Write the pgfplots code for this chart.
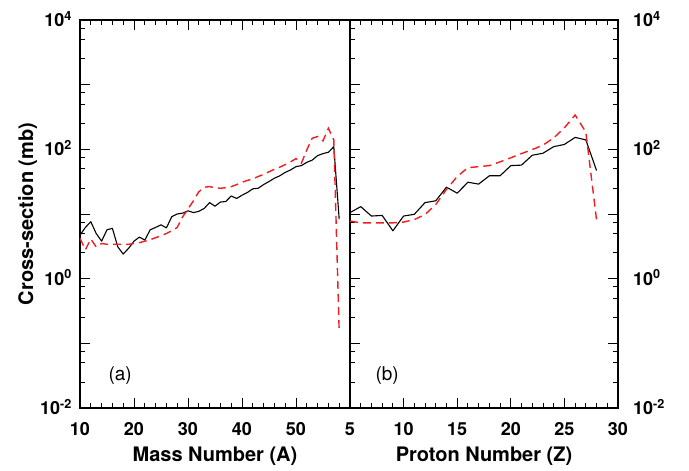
\documentclass[border=0pt]{standalone}
\usepackage{fontspec}
\setmainfont{TeX Gyre Heros}
\usepackage{pgfplots}
\pgfplotsset{compat=1.18}
\definecolor{dred}{RGB}{240,30,30}
\begin{document}
\begin{tikzpicture}
\path[use as bounding box] (-80pt,-63pt) rectangle (609pt,408pt);
\begin{axis}[at={(0pt,0pt)}, anchor=south west,
  scale only axis, width=270pt, height=388pt,
  ymode=log, ymin=1e-2, ymax=1e4,
  ytick={1e-2,1e-1,1,10,100,1000,1e4},
  yticklabels={10\textsuperscript{-2},,10\textsuperscript{0},,10\textsuperscript{2},,10\textsuperscript{4}},
  minor ytick={0.025,0.05,0.075,0.25,0.5,0.75,2.5,5,7.5,25,50,75,250,500,750,2500,5000,7500},
  tick align=inside, major tick length=10pt, minor tick length=5pt,
  every tick/.style={black, line width=0.9pt},
  axis line style={line width=1.1pt},
  xtick pos=both, xticklabel pos=bottom,
  tick label style={font=\fontsize{18}{18}\selectfont\bfseries, inner sep=0pt},
  xticklabel style={anchor=base, yshift=-27pt},
  label style={font=\fontsize{20}{20}\selectfont\bfseries},
  xlabel style={at={(axis description cs:0.5,-0.139)}, anchor=base},
  xmin=10, xmax=60, xtick={10,20,30,40,50,60}, xticklabels={10,20,30,40,50,},
  minor x tick num=4,
  ytick pos=left,
  yticklabel style={anchor=base east, xshift=-8pt, yshift=-6.5pt},
  xlabel={Mass Number (A)},
  ylabel={Cross-section (mb)},
  ylabel style={at={(axis description cs:-0.174,0.5)}, anchor=base},
]
\addplot[black, line width=1.1pt, line join=round] coordinates {
(10,4.7)(11,6.2)(12,7.6)(13,5.0)(14,3.8)(15,5.7)(16,6.0)(17,3.1)(18,2.4)(19,2.95)
(20,3.8)(21,4.4)(22,3.95)(23,5.7)(24,6.2)(25,6.8)(26,6.1)(27,9.1)(28,10)(29,10.3)
(30,11.2)(31,10.5)(32,11.0)(33,12.2)(34,15)(35,13.2)(36,15.3)(37,15.6)(38,19)(39,17.4)
(40,19.5)(41,21.5)(42,24.5)(43,25)(44,28.5)(45,31.8)(46,35.7)(47,39)(48,44)(49,48)
(50,54)(51,56)(52,63)(53,68)(54,80)(55,86)(56,90)(57,110)(58,8.3)
};
\addplot[dred, line width=1.4pt, dash pattern=on 8pt off 5pt] coordinates {
(10,4.2)(11,2.8)(12,4.1)(13,3.1)(14,3.5)(15,3.4)(16,3.4)(17,3.4)(18,3.4)(19,3.4)
(20,3.5)(21,3.6)(22,3.8)(23,4.0)(24,4.3)(25,4.6)(26,5.0)(27,5.5)(28,6.2)(29,9.0)
(30,12)(31,16)(32,22)(33,26)(34,26.5)(35,25.5)(36,25)(37,25.5)(38,26.5)(39,28.5)
(40,31)(41,33)(42,35)(43,38)(44,41)(45,45)(46,49)(47,53)(48,58)(49,64)
(50,72)(51,61)(52,98)(53,148)(54,158)(55,135)(56,212)(57,140)(58,0.15)
};
\node[anchor=base west, font=\fontsize{19}{19}\selectfont] at (rel axis cs:0.0926,0.072) {(a)};
\end{axis}
\begin{axis}[at={(270pt,0pt)}, anchor=south west,
  scale only axis, width=268pt, height=388pt,
  ymode=log, ymin=1e-2, ymax=1e4,
  ytick={1e-2,1e-1,1,10,100,1000,1e4},
  yticklabels={10\textsuperscript{-2},,10\textsuperscript{0},,10\textsuperscript{2},,10\textsuperscript{4}},
  minor ytick={0.025,0.05,0.075,0.25,0.5,0.75,2.5,5,7.5,25,50,75,250,500,750,2500,5000,7500},
  tick align=inside, major tick length=10pt, minor tick length=5pt,
  every tick/.style={black, line width=0.9pt},
  axis line style={line width=1.1pt},
  xtick pos=both, xticklabel pos=bottom,
  tick label style={font=\fontsize{18}{18}\selectfont\bfseries, inner sep=0pt},
  xticklabel style={anchor=base, yshift=-27pt},
  label style={font=\fontsize{20}{20}\selectfont\bfseries},
  xlabel style={at={(axis description cs:0.5,-0.139)}, anchor=base},
  xmin=5, xmax=30, xtick={5,10,15,20,25,30}, xticklabels={5,10,15,20,25,30},
  minor x tick num=4,
  ytick pos=both, yticklabel pos=right,
  yticklabel style={anchor=base west, xshift=15pt, yshift=-6.5pt},
  xlabel={Proton Number (Z)},
]
\addplot[black, line width=1.1pt, line join=round] coordinates {
(5,10.5)(6,13)(7,9.3)(8,9.5)(9,5.5)(10,9.3)(11,9.9)(12,15)(13,16)(14,26)
(15,21)(16,31)(17,29)(18,39)(19,39)(20,56)(21,57)(22,81)(23,87)(24,110)
(25,119)(26,153)(27,140)(28,47)
};
\addplot[dred, line width=1.4pt, dash pattern=on 8pt off 5pt] coordinates {
(5,7.8)(6,7.3)(7,7.3)(8,7.3)(9,7.3)(10,7.5)(11,8.2)(12,9.8)(13,14)(14,24)
(15,38)(16,52)(17,54)(18,56)(19,64)(20,74)(21,86)(22,99)(23,116)(24,150)
(25,215)(26,340)(27,185)(28,8.1)
};
\node[anchor=base west, font=\fontsize{19}{19}\selectfont] at (rel axis cs:0.082,0.072) {(b)};
\end{axis}
\end{tikzpicture}
\end{document}
